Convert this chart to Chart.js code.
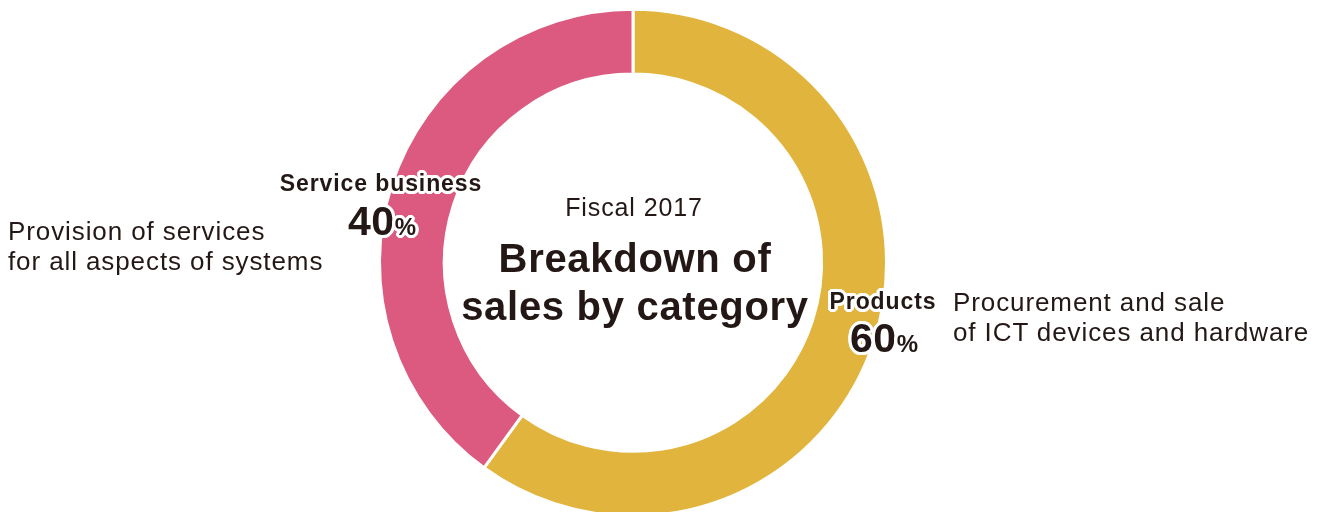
<!DOCTYPE html>
<html>
<head>
<meta charset="utf-8">
<script src="https://cdn.jsdelivr.net/npm/chart.js@4"></script>
<style>
  html, body { margin: 0; padding: 0; background: #fff; }
  body { width: 1327px; height: 512px; overflow: hidden; position: relative;
         font-family: "Liberation Sans", Arial, Helvetica, sans-serif; color: #231815; }
  #wrap { position: absolute; left: 0; top: 0; width: 1327px; height: 530px; }
  .txt { position: absolute; white-space: nowrap; }
  .center { text-align: center; width: 400px; }
  .halo { text-shadow:
      3px 0 0 #fff, -3px 0 0 #fff, 0 3px 0 #fff, 0 -3px 0 #fff,
      2px 2px 0 #fff, -2px 2px 0 #fff, 2px -2px 0 #fff, -2px -2px 0 #fff,
      3px 1px 0 #fff, -3px 1px 0 #fff, 3px -1px 0 #fff, -3px -1px 0 #fff,
      1px 3px 0 #fff, -1px 3px 0 #fff, 1px -3px 0 #fff, -1px -3px 0 #fff; }
  .cat { font-weight: bold; font-size: 23px; line-height: 23px; letter-spacing: 0.9px; }
  .pct { font-weight: bold; font-size: 41px; line-height: 41px; letter-spacing: 0.5px; }
  .pct span { font-size: 24px; letter-spacing: 0; }
  .desc { font-size: 26px; line-height: 30px; letter-spacing: 0.9px; }
</style>
</head>
<body>
<div id="wrap"><canvas id="salesChart"></canvas></div>

<div class="txt center" style="left:434px; top:194.8px; font-size:25px; line-height:25px; letter-spacing:0.9px;" id="fiscal"></div>
<div class="txt center" style="left:435px; top:234px; font-size:40px; line-height:48px; font-weight:bold; letter-spacing:0.7px;" id="title"></div>

<div class="txt desc" style="left:8px; top:216px;" id="descService"></div>
<div class="txt desc" style="left:953px; top:286.7px;" id="descProducts"></div>

<div class="txt center halo cat" style="left:181px; top:171.5px;" id="catService"></div>
<div class="txt center halo pct" style="left:182px; top:201.3px;" id="pctService"></div>
<div class="txt center halo cat" style="left:683px; top:289.5px;" id="catProducts"></div>
<div class="txt center halo pct" style="left:684px; top:317.5px;" id="pctProducts"></div>

<script>
// Fiscal 2017 sales split
const categories = ['Products', 'Service business'];
const shares = [60, 40];
const descriptions = [
  ['Procurement and sale', 'of ICT devices and hardware'],
  ['Provision of services', 'for all aspects of systems']
];
const colors = ['#E1B43D', '#DC5A80'];

document.getElementById('fiscal').textContent = 'Fiscal 2017';
document.getElementById('title').innerHTML = 'Breakdown of<br>sales by category';

// category name + share labels on the ring
const ids = ['Products', 'Service'];
ids.forEach((id, i) => {
  document.getElementById('cat' + id).textContent = categories[i];
  const pct = document.getElementById('pct' + id);
  pct.textContent = shares[i];
  const sign = document.createElement('span');
  sign.textContent = '%';
  pct.appendChild(sign);
  document.getElementById('desc' + id).innerHTML = descriptions[i].join('<br>');
});

const ctx = document.getElementById('salesChart');
new Chart(ctx, {
  type: 'doughnut',
  data: {
    labels: categories,
    datasets: [{
      data: shares,
      backgroundColor: colors,
      borderColor: '#ffffff',
      borderWidth: 3,
      hoverOffset: 0
    }]
  },
  options: {
    responsive: true,
    maintainAspectRatio: false,
    animation: false,
    cutout: '74.4%',
    rotation: 0,
    events: [],
    layout: {
      padding: { left: 0, right: 61, top: 7.7, bottom: 12.3 }
    },
    plugins: {
      legend: { display: false },
      tooltip: { enabled: false }
    }
  }
});
</script>
</body>
</html>
